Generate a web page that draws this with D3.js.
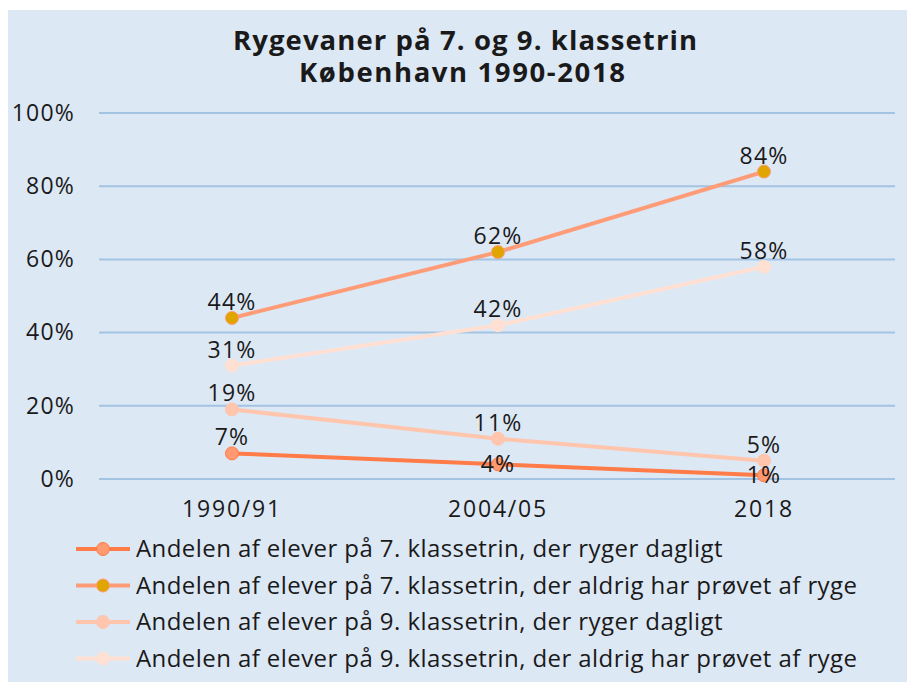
<!DOCTYPE html>
<html>
<head>
<meta charset="utf-8">
<script src="https://cdn.jsdelivr.net/npm/d3@7"></script>
<style>
  body { margin: 0; background: #fff; }
  svg { display: block; }
  text { font-family: "Open Sans", "Noto Sans", sans-serif; fill: #1a1a1a; }
</style>
</head>
<body>
<svg width="907" height="682"></svg>
<script>
// data
var years = ["1990/91", "2004/05", "2018"];
var dagligt7 = [7, 4, 1];
var aldrig7 = [44, 62, 84];
var dagligt9 = [19, 11, 5];
var aldrig9 = [31, 42, 58];
var yTicks = [0, 20, 40, 60, 80, 100];
var names = [
  "Andelen af elever på 7. klassetrin, der ryger dagligt",
  "Andelen af elever på 7. klassetrin, der aldrig har prøvet af ryge",
  "Andelen af elever på 9. klassetrin, der ryger dagligt",
  "Andelen af elever på 9. klassetrin, der aldrig har prøvet af ryge"
];

var serier = [
  { navn: names[0], v: dagligt7, linje: "#ff7b47", fyld: "#ff9a70", kant: "#ff7b47" },
  { navn: names[1], v: aldrig7, linje: "#ff9c78", fyld: "#e0a500", kant: "#ff9c78" },
  { navn: names[2], v: dagligt9, linje: "#ffc5ad", fyld: "#ffc5ad", kant: "#ffc5ad" },
  { navn: names[3], v: aldrig9, linje: "#ffe0d3", fyld: "#ffe0d3", kant: "#ffe0d3" }
];

var svg = d3.select("svg");

// baggrund
svg.append("rect")
  .attr("x", 8).attr("y", 10)
  .attr("width", 899).attr("height", 672)
  .style("fill", "#dde8f5");

// titel
svg.append("text")
  .attr("x", 465).attr("y", 50)
  .attr("text-anchor", "middle")
  .attr("font-size", 27.5).attr("font-weight", "bold")
  .attr("textLength", 464).attr("lengthAdjust", "spacing")
  .text("Rygevaner på 7. og 9. klassetrin");
svg.append("text")
  .attr("x", 462).attr("y", 82)
  .attr("text-anchor", "middle")
  .attr("font-size", 27.5).attr("font-weight", "bold")
  .attr("textLength", 326).attr("lengthAdjust", "spacing")
  .text("København 1990-2018");

var x = d3.scaleBand().domain(years).range([99, 897]);
var y = d3.scaleLinear().domain([0, 100]).range([479, 113]);

// gitter
svg.append("g")
  .selectAll("line")
  .data(yTicks)
  .enter().append("line")
  .attr("x1", 99).attr("x2", 895)
  .attr("y1", function(d) { return y(d); })
  .attr("y2", function(d) { return y(d); })
  .style("stroke", "#a3c3e3")
  .style("stroke-width", 2);

// y akse
var yAxis = svg.append("g")
  .attr("transform", "translate(75,0)")
  .call(d3.axisLeft(y).tickValues(yTicks).tickSize(0).tickPadding(0)
    .tickFormat(function(d) { return d + "%"; }));
yAxis.select(".domain").remove();
yAxis.selectAll("text").attr("font-size", 23).attr("letter-spacing", 1.2)
  .style("font-family", null).attr("fill", "#1a1a1a");

// x akse
var xAxis = svg.append("g")
  .attr("transform", "translate(0,501)")
  .call(d3.axisBottom(x).tickSize(0).tickPadding(0));
xAxis.select(".domain").remove();
xAxis.selectAll("text").attr("font-size", 23).attr("letter-spacing", 1.8)
  .style("font-family", null).attr("fill", "#1a1a1a");

var cx = function(d, i) { return x(years[i]) + x.bandwidth() / 2; };
var linje = d3.line().x(cx).y(function(d) { return y(d); });

serier.forEach(function(s, k) {
  svg.append("path")
    .datum(s.v)
    .attr("d", linje)
    .style("fill", "none")
    .style("stroke", s.linje)
    .style("stroke-width", 4)
    .style("stroke-linejoin", "round");
});
serier.forEach(function(s, k) {
  svg.append("g").selectAll("circle")
    .data(s.v)
    .enter().append("circle")
    .attr("cx", cx)
    .attr("cy", function(d) { return y(d); })
    .attr("r", 6.5)
    .style("fill", s.fyld)
    .style("stroke", s.kant)
    .style("stroke-width", 1);
});
// etiketter
serier.forEach(function(s, k) {
  svg.append("g").selectAll("text")
    .data(s.v)
    .enter().append("text")
    .attr("x", cx)
    .attr("y", function(d, i) {
      if (k == 0 && i > 0) return y(d) + 8;
      return y(d) - 8;
    })
    .attr("text-anchor", "middle")
    .attr("font-size", 23)
    .attr("letter-spacing", 1.2)
    .text(function(d) { return d + "%"; });
});

// forklaring
var leg = svg.append("g")
  .selectAll("g")
  .data(serier)
  .enter().append("g")
  .attr("transform", function(d, i) { return "translate(0," + (549 + i * 36.5) + ")"; });
leg.append("line")
  .attr("x1", 76).attr("x2", 130)
  .style("stroke", function(d) { return d.linje; })
  .style("stroke-width", 4);
leg.append("circle")
  .attr("cx", 103).attr("r", 6.5)
  .style("fill", function(d) { return d.fyld; })
  .style("stroke", function(d) { return d.kant; });
var legTekst = leg.append("text")
  .attr("x", 136).attr("dy", "0.35em")
  .attr("font-size", 24)
  .text(function(d) { return d.navn; });
// tilpas bogstavafstand saa linje 2 ender ved 857
var w = legTekst.nodes()[1].getComputedTextLength();
var ls = (721 - w) / (names[1].length - 1);
legTekst.attr("letter-spacing", ls);
</script>
</body>
</html>
